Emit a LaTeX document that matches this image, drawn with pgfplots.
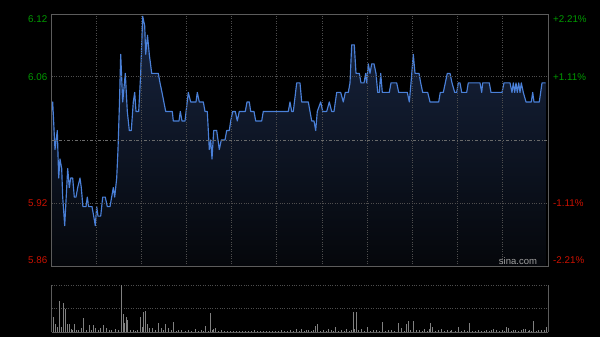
\documentclass[border=0pt]{standalone}
\usepackage{fontspec}
\setmainfont{Liberation Sans}
\usepackage{pgfplots}
\pgfplotsset{compat=1.18}
\definecolor{lineblue}{HTML}{4A80D8}
\definecolor{framec}{HTML}{5C5C5C}
\definecolor{gridc}{HTML}{4E4E4E}
\definecolor{midc}{HTML}{6A6A6A}
\definecolor{upg}{HTML}{009A00}
\definecolor{dnr}{HTML}{CC1100}
\definecolor{filltop}{HTML}{17243F}
\definecolor{fillbot}{HTML}{05070B}
\definecolor{volc}{HTML}{808080}
\definecolor{wm}{HTML}{A0A0A0}
\begin{document}
\begin{tikzpicture}[x=1pt,y=1pt]
\fill[black] (0,0) rectangle (600,337);
\path[use as bounding box] (0,0) rectangle (600,337);
\begin{axis}[scale only axis, width=496.5pt, height=252pt, at={(51.5pt,71pt)}, anchor=south west,
  xmin=51.5, xmax=548, ymin=5.8576, ymax=6.1224,
  axis line style={framec, line width=0.8pt},
  xtick={96.7,141.7,186.7,231.7,276.7,322.7,367.7,412.7,457.7,502.7},
  ytick={5.9235,6.0565},
  extra y ticks={5.99},
  extra y tick style={grid style={midc, dash dot, line width=0.6pt}},
  xticklabels={}, yticklabels={}, extra y tick labels={},
  major tick length=0pt,
  xmajorgrids, ymajorgrids,
  grid style={gridc, dotted, line width=0.7pt},
  axis on top]
\addplot[draw=none, top color=filltop, bottom color=fillbot] table {
x y
51.5 6.02
52.7 6.03
55 5.98
57.3 6.00
58.7 5.95
60 5.97
61.7 5.96
62.7 5.93
64.7 5.90
67.7 5.96
69.3 5.94
70.7 5.95
72.7 5.95
74.3 5.93
76 5.93
77.7 5.94
80 5.95
81.3 5.94
82.9 5.92
86 5.92
87.3 5.93
88.7 5.92
92 5.92
93.7 5.91
95.3 5.90
96.7 5.92
98 5.91
100.7 5.91
102.7 5.93
105.3 5.93
107.3 5.92
110 5.92
113.3 5.94
114.7 5.93
116.7 5.95
118 5.98
119.5 6.03
120.7 6.08
122.7 6.03
125.3 6.06
127.3 6.02
129.3 6.00
131.3 6.00
133.3 6.03
134.7 6.04
136 6.02
138.7 6.02
140.7 6.06
142.7 6.12
144.7 6.11
145.7 6.08
147.5 6.10
149.3 6.08
151.7 6.06
158.3 6.06
160 6.05
162 6.04
165.7 6.02
172.3 6.02
173.3 6.01
179 6.01
180.3 6.02
182 6.01
185 6.01
188.3 6.04
190.7 6.03
196 6.03
197.3 6.04
199.3 6.03
203.3 6.03
205 6.02
207.3 6.02
209.3 5.98
210.7 5.99
212 5.97
213.7 6.00
216.7 6.00
219.3 5.98
221.3 5.99
225 5.99
226.7 6.00
229.3 6.00
230.7 6.01
232.7 6.02
235.3 6.02
237.3 6.01
239.3 6.02
245.3 6.02
247 6.03
249.3 6.03
250.7 6.02
254 6.02
255.7 6.01
261.7 6.01
263.3 6.02
288.3 6.02
290 6.03
291.7 6.02
293.3 6.02
296.7 6.05
300 6.05
301.7 6.03
308.3 6.03
311.7 6.01
314 6.01
315.7 6.00
317.3 6.02
320.7 6.03
322.7 6.02
326.7 6.02
329.3 6.03
331.7 6.02
334 6.02
336.7 6.04
340.7 6.04
343.3 6.03
345.3 6.04
348.3 6.04
350 6.05
351.7 6.09
354.3 6.09
356 6.06
359.3 6.06
361 6.05
364 6.05
365.7 6.06
366.7 6.05
368.3 6.07
370 6.06
371.7 6.07
374 6.07
376 6.06
377.7 6.04
379.3 6.04
380.7 6.06
382.3 6.04
389.3 6.04
391 6.05
396.7 6.05
398.7 6.04
407.3 6.04
409.3 6.03
411 6.05
413.3 6.08
415 6.06
419 6.06
420.7 6.05
422.7 6.04
427.7 6.04
430 6.03
438.7 6.03
440.3 6.04
443.3 6.04
445.3 6.05
447.3 6.06
450 6.06
452 6.05
454.7 6.04
456.7 6.04
458.3 6.05
460 6.05
461.7 6.04
466.7 6.04
468.3 6.05
480 6.05
481.7 6.04
482.7 6.05
489.3 6.05
491 6.04
502 6.04
504 6.05
510 6.05
512 6.04
513.3 6.05
514.7 6.04
516 6.05
517.3 6.04
518.7 6.05
520 6.04
521.3 6.05
523.3 6.04
526 6.03
531.3 6.03
532.7 6.04
534 6.03
539.3 6.03
542 6.05
545.5 6.05
} -- (axis cs:545.5,5.8576) -- (axis cs:51.5,5.8576) -- cycle;
\addplot[lineblue, line width=1.15pt, line join=round] table {
x y
51.5 6.02
52.7 6.03
55 5.98
57.3 6.00
58.7 5.95
60 5.97
61.7 5.96
62.7 5.93
64.7 5.90
67.7 5.96
69.3 5.94
70.7 5.95
72.7 5.95
74.3 5.93
76 5.93
77.7 5.94
80 5.95
81.3 5.94
82.9 5.92
86 5.92
87.3 5.93
88.7 5.92
92 5.92
93.7 5.91
95.3 5.90
96.7 5.92
98 5.91
100.7 5.91
102.7 5.93
105.3 5.93
107.3 5.92
110 5.92
113.3 5.94
114.7 5.93
116.7 5.95
118 5.98
119.5 6.03
120.7 6.08
122.7 6.03
125.3 6.06
127.3 6.02
129.3 6.00
131.3 6.00
133.3 6.03
134.7 6.04
136 6.02
138.7 6.02
140.7 6.06
142.7 6.12
144.7 6.11
145.7 6.08
147.5 6.10
149.3 6.08
151.7 6.06
158.3 6.06
160 6.05
162 6.04
165.7 6.02
172.3 6.02
173.3 6.01
179 6.01
180.3 6.02
182 6.01
185 6.01
188.3 6.04
190.7 6.03
196 6.03
197.3 6.04
199.3 6.03
203.3 6.03
205 6.02
207.3 6.02
209.3 5.98
210.7 5.99
212 5.97
213.7 6.00
216.7 6.00
219.3 5.98
221.3 5.99
225 5.99
226.7 6.00
229.3 6.00
230.7 6.01
232.7 6.02
235.3 6.02
237.3 6.01
239.3 6.02
245.3 6.02
247 6.03
249.3 6.03
250.7 6.02
254 6.02
255.7 6.01
261.7 6.01
263.3 6.02
288.3 6.02
290 6.03
291.7 6.02
293.3 6.02
296.7 6.05
300 6.05
301.7 6.03
308.3 6.03
311.7 6.01
314 6.01
315.7 6.00
317.3 6.02
320.7 6.03
322.7 6.02
326.7 6.02
329.3 6.03
331.7 6.02
334 6.02
336.7 6.04
340.7 6.04
343.3 6.03
345.3 6.04
348.3 6.04
350 6.05
351.7 6.09
354.3 6.09
356 6.06
359.3 6.06
361 6.05
364 6.05
365.7 6.06
366.7 6.05
368.3 6.07
370 6.06
371.7 6.07
374 6.07
376 6.06
377.7 6.04
379.3 6.04
380.7 6.06
382.3 6.04
389.3 6.04
391 6.05
396.7 6.05
398.7 6.04
407.3 6.04
409.3 6.03
411 6.05
413.3 6.08
415 6.06
419 6.06
420.7 6.05
422.7 6.04
427.7 6.04
430 6.03
438.7 6.03
440.3 6.04
443.3 6.04
445.3 6.05
447.3 6.06
450 6.06
452 6.05
454.7 6.04
456.7 6.04
458.3 6.05
460 6.05
461.7 6.04
466.7 6.04
468.3 6.05
480 6.05
481.7 6.04
482.7 6.05
489.3 6.05
491 6.04
502 6.04
504 6.05
510 6.05
512 6.04
513.3 6.05
514.7 6.04
516 6.05
517.3 6.04
518.7 6.05
520 6.04
521.3 6.05
523.3 6.04
526 6.03
531.3 6.03
532.7 6.04
534 6.03
539.3 6.03
542 6.05
545.5 6.05
};
\end{axis}
\begin{axis}[scale only axis, width=496.5pt, height=47pt, at={(51.5pt,4.7pt)}, anchor=south west,
  xmin=51.5, xmax=548, ymin=0, ymax=47,
  axis x line*=bottom, axis y line*=box,
  axis line style={framec, line width=0.8pt},
  xtick=\empty, ytick={23.5,47}, yticklabels={},
  major tick length=0pt, ymajorgrids,
  grid style={gridc, dotted, line width=0.8pt}]
\addplot[ycomb, draw=volc, line width=0.9pt] coordinates {
(53,15) (55,8.3) (57,5.6) (59,31) (61.7,5.6) (63.7,29) (65.7,23.3) (67,8.3) (69,8.3)
(71,3) (72.5,2) (74.3,8.3) (76,2) (78,2.5) (81,4.3) (83.7,14) (86,2) (89,7.3) (91,2)
(93.7,7.3) (95.7,4.3) (98,2) (100.3,4.3) (103.7,7.3) (106.3,4.3) (109,2) (111.7,2.7)
(115,3.3) (118.3,2.7) (121.7,47) (123,18) (124.3,9) (126.3,15.6) (127.5,12) (130.3,2.7)
(133,2) (135,1.5) (137,2.7) (140.3,15) (142.3,5.6) (143.7,20) (145.7,21.3) (147.7,8)
(149.7,4.3) (152.3,4.3) (155,2) (158.3,9) (161,4.3) (163,2) (165.7,8) (168.3,4.3) (171,2)
(173.7,10) (176,1.5) (178.3,2) (181.7,2.7) (185,1.5) (188.3,2.7) (191.5,1.5) (195,3.3)
(198,1.5) (201.7,2.7) (203.5,1.5) (205.7,6.6) (208,1.5) (210.3,19) (212,2) (213.7,3.3)
(215,4.3) (218,1.5) (221,2) (224,1.5) (227,1.2) (230,1.5) (233,1.2) (236,1.5) (239,1.2)
(242,1.5) (245,1.2) (248,1.5) (251,1.2) (254,2) (257,1.2) (260,1.5) (263,1.2) (266,1.5)
(269,1.2) (272,1.5) (275,1.2) (278,1.5) (281,2) (284,1.5) (287,1.2) (290,2) (293,1.5)
(296.7,3.3) (299,1.5) (301.7,3.3) (304,1.5) (306,2) (308.3,2.7) (311,1.5) (313,2)
(315.7,6.6) (317.7,8) (320,1.5) (323.7,2.7) (326,1.5) (328.3,3.3) (331,2) (333,1.5)
(335.7,5.6) (338,1.5) (341.7,2) (344,1.5) (346.3,3.3) (349,1.5) (351,2) (353,20)
(354.5,3) (356.3,20) (358,2) (361.7,3.3) (364,1.5) (367.7,5.6) (370,1.5) (373,2)
(376.3,2.7) (379,1.5) (382.3,10.6) (385,1.5) (388,2) (391,2) (394,1.5) (398.3,9.6)
(401.7,4.3) (404,1.5) (406.3,8) (408.3,11.6) (410.5,2) (413,11.6) (413.9,5) (416,2)
(419,2) (422,1.5) (424.3,3.3) (427,1.5) (429,3.3) (430.3,9) (432.3,5.6) (435,1.5)
(438,2) (441,3.3) (444,1.5) (447.7,2.7) (450,1.5) (451.7,2) (455,1.5) (458.3,5.6)
(461,1.5) (464,2) (467,1.5) (469.7,9.6) (472,1.5) (475,1.2) (478.3,2) (481,1.5)
(484,1.2) (486.3,2.7) (489,1.5) (491,2) (493.7,3.3) (496.3,2.7) (499,1.5) (502,2)
(504,1.5) (506.3,5.6) (508.3,4.3) (511,1.5) (513,2) (515.7,2) (518,1.5) (521,2)
(523,3.3) (525.7,3.3) (528,1.5) (529.7,2.7) (531.5,1.5) (533.7,11.3) (536,1.5)
(538.3,2.7) (541,2) (544.3,2.7) (546.3,5.6)
};
\end{axis}
\tikzset{lbl/.style={font=\fontsize{9.8}{11}\selectfont, inner sep=0pt}}
\node[lbl, anchor=east, text=upg] at (47.5,318) {6.12};
\node[lbl, anchor=east, text=upg] at (47.5,260) {6.06};
\node[lbl, anchor=east, text=dnr] at (47.5,134) {5.92};
\node[lbl, anchor=east, text=dnr] at (47.5,77) {5.86};
\node[lbl, anchor=west, text=upg] at (553,318) {+2.21\%};
\node[lbl, anchor=west, text=upg] at (553,260) {+1.11\%};
\node[lbl, anchor=west, text=dnr] at (553,134) {-1.11\%};
\node[lbl, anchor=west, text=dnr] at (553,77) {-2.21\%};
\node[font=\fontsize{9.5}{11}\selectfont, text=wm, inner sep=0pt] at (518,75.5) {sina.com};
\end{tikzpicture}
\end{document}
